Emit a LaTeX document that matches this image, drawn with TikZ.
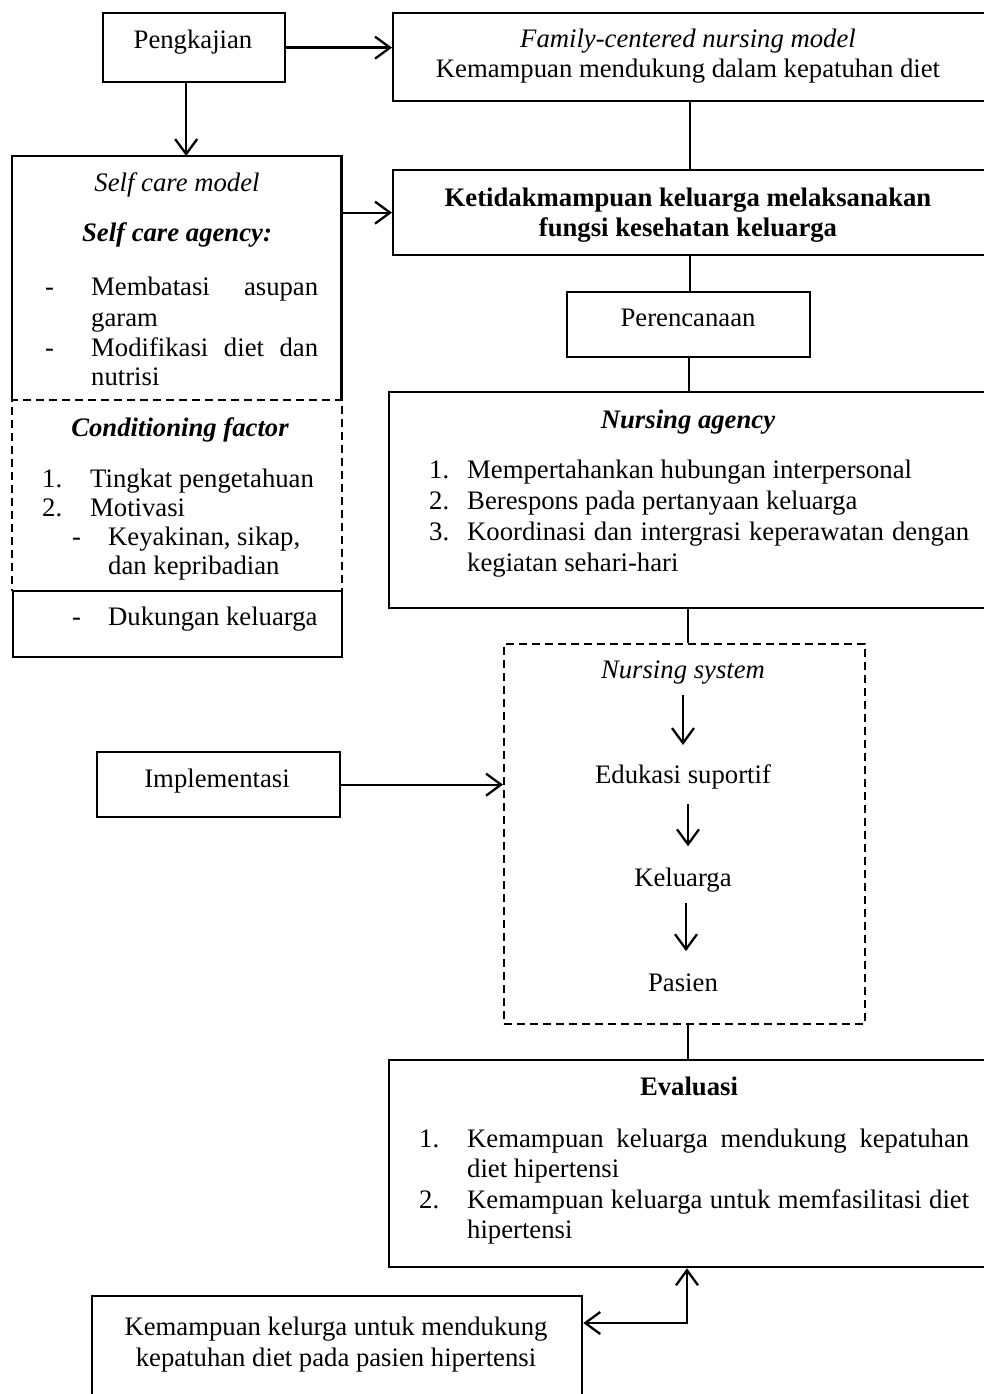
\documentclass[tikz,border=0pt]{standalone}
\usepackage{fontspec}
\setmainfont{Liberation Serif}
\usetikzlibrary{arrows.meta}
\newcommand{\fsz}{\fontsize{26.7}{30.5}\selectfont}
\begin{document}
\begin{tikzpicture}[x=1pt,y=-1pt,
  box/.style={draw, line width=2.3pt, rectangle, inner sep=0pt, anchor=north west},
  dbox/.style={box, dash pattern=on 8pt off 5pt},
  nbox/.style={rectangle, inner sep=0pt, anchor=north west},
  t/.style={inner sep=0pt, anchor=base, font=\fsz},
  tl/.style={inner sep=0pt, anchor=base west, font=\fsz},
  conn/.style={line width=2.1pt},
  arr/.style={line width=2.3pt, -{Straight Barb[length=15pt,width=22pt]}},
  dblarr/.style={line width=2.3pt, {Straight Barb[length=15pt,width=22pt]}-{Straight Barb[length=15pt,width=22pt]}},
]
\useasboundingbox (0,0) rectangle (984,1394);

% ---------- boxes ----------
\node[box, minimum width=182pt, minimum height=69pt] (peng) at (102,12) {};
\node[box, minimum width=593pt, minimum height=88pt] (fcn) at (392,12) {};
\node[box, minimum width=593pt, minimum height=85pt] (ket) at (392,169) {};
\node[dbox, minimum width=330pt, minimum height=191pt] (cf) at (11,399) {};
\node[nbox, minimum width=329pt, minimum height=243pt] (sc) at (12,156) {};
\draw[line width=2.3pt] (sc.south west) -- (sc.north west) -- (sc.north east) -- (sc.south east);
\node[box, fill=white, minimum width=329pt, minimum height=66pt] (dk) at (12,590) {};
\node[box, minimum width=243pt, minimum height=65pt] (per) at (566,291) {};
\node[box, minimum width=597pt, minimum height=216pt] (na) at (388,391) {};
\node[dbox, minimum width=361pt, minimum height=380pt] (ns) at (503,643) {};
\node[box, minimum width=243pt, minimum height=65pt] (imp) at (96,751) {};
\node[box, minimum width=597pt, minimum height=207pt] (ev) at (388,1059) {};
\node[box, minimum width=490pt, minimum height=130pt] (kb) at (91,1295) {};

% ---------- texts ----------
\node[t] (tpeng) at (193,49) {Pengkajian};
\node[t] (tfcn1) at (688,48) {\itshape Family-centered nursing model};
\node[t] (tfcn2) at (688,78) {Kemampuan mendukung dalam kepatuhan diet};
\node[t] (tket1) at (688,206) {\bfseries Ketidakmampuan keluarga melaksanakan};
\node[t] (tket2) at (688,236) {\bfseries fungsi kesehatan keluarga};

\node[t] (tsc1) at (177,191) {\itshape Self care model};
\node[t] (tsc2) at (177,241) {\bfseries\itshape Self care agency:};
\node[tl] (dsc1) at (45,295) {-};
\node[tl] (lsc1) at (91,295) {\hbox to 227pt{Membatasi\hfill asupan}};
\node[tl] (lsc2) at (91,326) {garam};
\node[tl] (dsc2) at (45,356) {-};
\node[tl] (lsc3) at (91,356) {\hbox to 227pt{Modifikasi\hfill diet\hfill dan}};
\node[tl] (lsc4) at (91,385) {nutrisi};

\node[t] (tcf) at (180,436) {\bfseries\itshape Conditioning factor};
\node[tl] (ncf1) at (42,487) {1.};
\node[tl] (lcf1) at (90,487) {Tingkat pengetahuan};
\node[tl] (ncf2) at (42,516) {2.};
\node[tl] (lcf2) at (90,516) {Motivasi};
\node[tl] (dcf1) at (72,545) {-};
\node[tl] (lcf3) at (108,545) {Keyakinan, sikap,};
\node[tl] (lcf4) at (108,574) {dan kepribadian};
\node[tl] (ddk) at (72,625) {-};
\node[tl] (ldk) at (108,625) {Dukungan keluarga};

\node[t] (tper) at (688,326) {Perencanaan};
\node[t] (tna) at (688,428) {\bfseries\itshape Nursing agency};
\node[tl] (nna1) at (429,478) {1.};
\node[tl] (lna1) at (467,478) {Mempertahankan hubungan interpersonal};
\node[tl] (nna2) at (429,509) {2.};
\node[tl] (lna2) at (467,509) {Berespons pada pertanyaan keluarga};
\node[tl] (nna3) at (429,540) {3.};
\node[tl] (lna3) at (467,540) {\hbox to 502pt{Koordinasi\hfill dan\hfill intergrasi\hfill keperawatan\hfill dengan}};
\node[tl] (lna4) at (467,571) {kegiatan sehari-hari};

\node[t] (tns) at (683,678) {\itshape Nursing system};
\node[t] (tedu) at (683,783) {Edukasi suportif};
\node[t] (tkel) at (683,886) {Keluarga};
\node[t] (tpas) at (683,991) {Pasien};

\node[t] (timp) at (217,787) {Implementasi};

\node[t] (tev) at (689,1095) {\bfseries Evaluasi};
\node[tl] (nev1) at (419,1147) {1.};
\node[tl] (lev1) at (467,1147) {\hbox to 502pt{Kemampuan\hfill keluarga\hfill mendukung\hfill kepatuhan}};
\node[tl] (lev2) at (467,1177) {diet hipertensi};
\node[tl] (nev2) at (419,1208) {2.};
\node[tl] (lev3) at (467,1208) {\hbox to 502pt{Kemampuan\hfill keluarga\hfill untuk\hfill memfasilitasi\hfill diet}};
\node[tl] (lev4) at (467,1238) {hipertensi};

\node[t] (tkb1) at (336,1335) {Kemampuan kelurga untuk mendukung};
\node[t] (tkb2) at (336,1366) {kepatuhan diet pada pasien hipertensi};

% ---------- connectors ----------
\draw[arr] (peng.east) -- (fcn.west |- peng.east);
\draw[arr] ([xshift=-8pt]peng.south) -- ([xshift=-8pt]peng.south |- sc.north);
\draw[arr] (sc.east |- ket.west) -- (ket.west);
\draw[conn] (fcn.south) -- (ket.north);
\draw[conn] (ket.south) -- (ket.south |- per.north);
\draw[conn] (per.south) -- (per.south |- na.north);
\draw[conn] (na.south) -- (na.south |- ns.north);
\draw[conn] (ns.south -| ev.north) -- (ev.north);
\draw[arr] (imp.east) -- (ns.west |- imp.east);
\draw[arr, shorten <=11pt, shorten >=19pt] (tns.south) -- (tedu.north);
\draw[arr, shorten <=15pt, shorten >=21pt] ([xshift=5pt]tedu.south) -- ([xshift=5pt]tkel.north);
\draw[arr, shorten <=11pt, shorten >=22pt] ([xshift=3pt]tkel.south) -- ([xshift=3pt]tpas.north);
\coordinate (bend) at (687,1323);
\draw[dblarr] (kb.east |- bend) -- (bend) -- (bend |- ev.south);
\end{tikzpicture}
\end{document}
